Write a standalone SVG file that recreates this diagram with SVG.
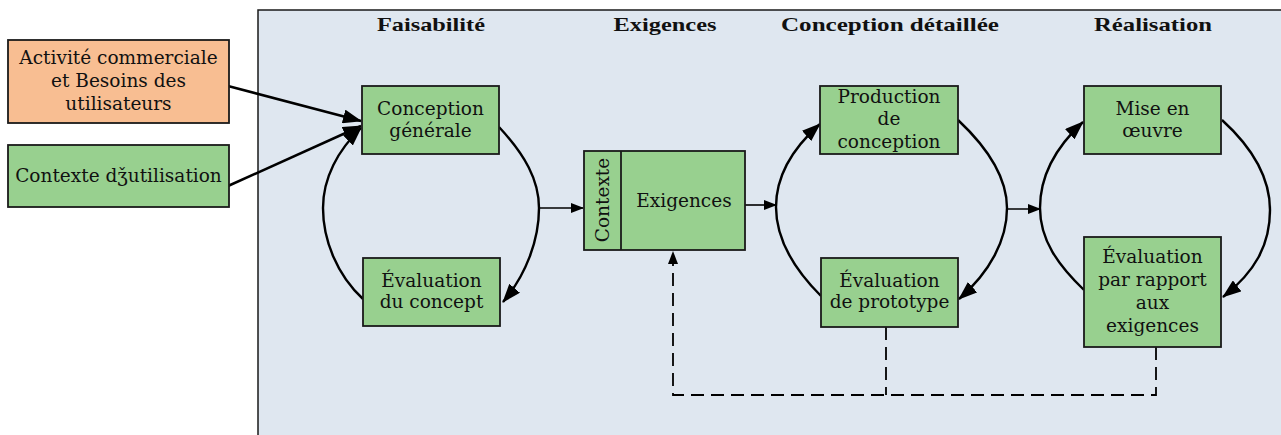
<svg xmlns="http://www.w3.org/2000/svg" width="1281" height="435" viewBox="0 0 1281 435">
<defs>
<style>
.box{fill:#98d08f;stroke:#1a1a1a;stroke-width:1.8}
.org{fill:#f8be92;stroke:#1a1a1a;stroke-width:1.8}
.t{font-family:"DejaVu Serif","Liberation Serif",serif;font-size:18.5px;fill:#111;text-anchor:middle}
.h{font-family:"Liberation Serif",serif;font-weight:bold;font-size:19px;fill:#111;text-anchor:middle}
.arc{fill:none;stroke:#000;stroke-width:2.4;marker-end:url(#ah)}
.ln{fill:none;stroke:#000;stroke-width:1.6;marker-end:url(#as)}
.in{fill:none;stroke:#000;stroke-width:2.5;marker-end:url(#ah)}
.dash{fill:none;stroke:#000;stroke-width:1.8;stroke-dasharray:13,7}
</style>
<marker id="ah" viewBox="0 0 19 14" refX="18" refY="7" markerWidth="19" markerHeight="14" markerUnits="userSpaceOnUse" orient="auto">
<path d="M0,0 L19,7 L0,14 Z" fill="#000"/>
</marker>
<marker id="as" viewBox="0 0 13 10" refX="12" refY="5" markerWidth="13" markerHeight="10" markerUnits="userSpaceOnUse" orient="auto">
<path d="M0,0 L13,5 L0,10 Z" fill="#000"/>
</marker>
</defs>
<rect x="258" y="10" width="1040" height="440" fill="#dfe7f0" stroke="#1a1a1a" stroke-width="1.5"/>
<g id="headers">
<text class="h" x="431" y="31" textLength="108" lengthAdjust="spacingAndGlyphs">Faisabilité</text>
<text class="h" x="665" y="31" textLength="103" lengthAdjust="spacingAndGlyphs">Exigences</text>
<text class="h" x="890" y="31" textLength="218" lengthAdjust="spacingAndGlyphs">Conception détaillée</text>
<text class="h" x="1153" y="31" textLength="118" lengthAdjust="spacingAndGlyphs">Réalisation</text>
</g>
<g id="connectors">
<path class="in" d="M228,86 L361,121"/>
<path class="in" d="M228,186 L361,126"/>
<path class="arc" d="M499,127 C525,155 539,180 539,208 C539,240 526,275 503,302"/>
<path class="arc" d="M363,299 C337,275 323,240 323,208 C323,178 338,150 361,128"/>
<path class="ln" d="M539,208 L583,208"/>
<path class="ln" d="M745,205 L776,205"/>
<path class="arc" d="M821,296 C795,270 776,240 776,207 C776,175 794,147 820,124"/>
<path class="arc" d="M958,120 C990,150 1007,180 1007,208 C1007,240 990,272 959,299"/>
<path class="ln" d="M1007,209 L1040,209"/>
<path class="arc" d="M1084,290 C1058,265 1040,240 1040,208 C1040,175 1057,146 1083,122"/>
<path class="arc" d="M1222,120 C1255,150 1270,180 1270,210 C1270,245 1255,272 1223,297"/>
<path class="dash" d="M886,327 V395"/>
<path class="dash" d="M1156,347 V395 H673 V262"/>
<path d="M673,251 L668,264 L678,264 Z" fill="#000"/>
</g>
<g id="n-activite">
<rect class="org" x="8" y="40" width="221" height="83"/>
<text class="t" x="118.5" y="64">Activité commerciale</text>
<text class="t" x="118.5" y="87">et Besoins des</text>
<text class="t" x="118.5" y="110">utilisateurs</text>
</g>
<g id="n-contexte-util">
<rect class="box" x="8" y="145" width="221" height="62"/>
<text class="t" x="118.5" y="182">Contexte dǯutilisation</text>
</g>
<g id="n-conception-generale">
<rect class="box" x="362" y="86" width="137" height="68"/>
<text class="t" x="430.5" y="115">Conception</text>
<text class="t" x="430.5" y="137">générale</text>
</g>
<g id="n-eval-concept">
<rect class="box" x="363" y="258" width="137" height="68"/>
<text class="t" x="431.5" y="287">Évaluation</text>
<text class="t" x="431.5" y="308">du concept</text>
</g>
<g id="n-exigences">
<rect class="box" x="584" y="151" width="161" height="99"/>
<line x1="621" y1="151" x2="621" y2="250" stroke="#1a1a1a" stroke-width="1.8"/>
<text class="t" x="684" y="207">Exigences</text>
<text class="t" transform="translate(609,200) rotate(-90)" x="0" y="0">Contexte</text>
</g>
<g id="n-production">
<rect class="box" x="820" y="86" width="138" height="68"/>
<text class="t" x="889" y="103">Production</text>
<text class="t" x="889" y="125">de</text>
<text class="t" x="889" y="148">conception</text>
</g>
<g id="n-eval-prototype">
<rect class="box" x="821" y="258" width="137" height="69"/>
<text class="t" x="889.5" y="287">Évaluation</text>
<text class="t" x="889.5" y="308">de prototype</text>
</g>
<g id="n-mise">
<rect class="box" x="1084" y="86" width="137" height="68"/>
<text class="t" x="1152.5" y="115">Mise en</text>
<text class="t" x="1152.5" y="137">œuvre</text>
</g>
<g id="n-eval-exigences">
<rect class="box" x="1084" y="237" width="137" height="110"/>
<text class="t" x="1152.5" y="263">Évaluation</text>
<text class="t" x="1152.5" y="286">par rapport</text>
<text class="t" x="1152.5" y="309">aux</text>
<text class="t" x="1152.5" y="332">exigences</text>
</g>
</svg>
